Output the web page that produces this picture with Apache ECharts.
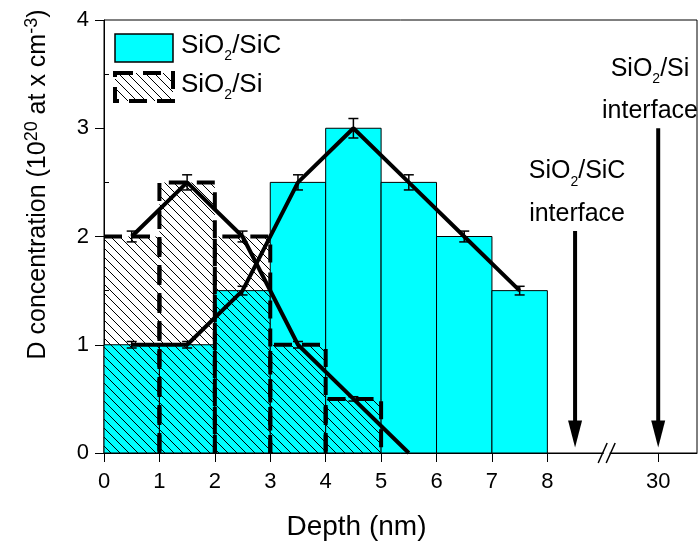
<!DOCTYPE html>
<html><head><meta charset="utf-8">
<script src="https://cdn.jsdelivr.net/npm/echarts@6/dist/echarts.min.js"></script>
<style>html,body{margin:0;padding:0;background:#fff}#c{width:699px;height:546px}</style>
</head><body><div id="c"></div>
<script>
// ---- data ----
const binStart = [0, 1, 2, 3, 4, 5, 6, 7];
const binEnd = [1, 2, 3, 4, 5, 6, 7, 8];
const sicBars = [1, 1, 1.5, 2.5, 3, 2.5, 2, 1.5];
const siBars = [2, 2.5, 2, 1, 0.5];
const sicProfileX = [0.5, 1.5, 2.5, 3.5, 4.5, 5.5, 6.5, 7.5];
const sicProfileY = [1, 1, 1.5, 2.5, 3, 2.5, 2, 1.5];
const sicErr = [0.03, 0.03, 0.04, 0.07, 0.09, 0.07, 0.05, 0.04];
const siProfileX = [0.5, 1.5, 2.5, 3.5, 4.5, 5.5];
const siProfileY = [2, 2.5, 2, 1, 0.5, 0];
const siErr = [0.05, 0.07, 0.05, 0.03, 0.02, 0];
const xTickValues = [0, 1, 2, 3, 4, 5, 6, 7, 8, 10];
const xTickLabels = ['0', '1', '2', '3', '4', '5', '6', '7', '8', '30'];
const yMinorTicks = [0.5, 1.5, 2.5, 3.5];
const interfaceX = [8.5, 10];
const interfaceTop = [2.05, 3.0];
const interfaceTip = [0.05, 0.05];
const interfaceMaterial = ['SiC', 'Si'];
const axisBreakX = [9.07];

const FONT = 'Liberation Sans, Arial, sans-serif';
const GRID = {left: 104, right: 2, top: 20, bottom: 93};
const W = 699;

function makeHatch() {
  const c = document.createElement('canvas');
  c.width = 9; c.height = 9;
  const g = c.getContext('2d');
  g.strokeStyle = '#000'; g.lineWidth = 1;
  g.beginPath();
  g.moveTo(-1, -1); g.lineTo(10, 10);
  g.moveTo(-1, 8); g.lineTo(1, 10);
  g.moveTo(8, -1); g.lineTo(10, 1);
  g.stroke();
  return c;
}
const hatch = {image: makeHatch(), repeat: 'repeat'};

function subRich(size) {
  return {
    n: {fontSize: size, fontFamily: FONT, color: '#000', lineHeight: 30, verticalAlign: 'top'},
    s: {fontSize: 14, fontFamily: FONT, color: '#000', lineHeight: 14, verticalAlign: 'top', padding: [16, 0, 0, 0]}
  };
}

const chart = echarts.init(document.getElementById('c'), null, {renderer: 'canvas'});

const option = {
  animation: false,
  backgroundColor: '#fff',
  grid: Object.assign({show: true, borderColor: '#000', borderWidth: 1, backgroundColor: 'transparent', containLabel: false}, GRID),
  xAxis: {
    type: 'value', min: 0, max: 10.7,
    axisLine: {show: true, onZero: false, lineStyle: {color: '#000', width: 1}},
    axisTick: {show: true, length: 9, customValues: xTickValues, lineStyle: {color: '#000', width: 1}},
    axisLabel: {show: true, customValues: xTickValues, formatter: v => xTickLabels[xTickValues.indexOf(v)],
      fontSize: 22, fontFamily: FONT, color: '#000', margin: 18},
    splitLine: {show: false}
  },
  yAxis: [{
    type: 'value', min: 0, max: 4, interval: 1,
    axisLine: {show: true, lineStyle: {color: '#000', width: 1}},
    axisTick: {show: true, length: 9, lineStyle: {color: '#000', width: 1}},
    axisLabel: {fontSize: 22, fontFamily: FONT, color: '#000', margin: 15},
    splitLine: {show: false}
  }, {
    type: 'value', min: 0, max: 4, position: 'left', offset: 0,
    axisLine: {show: false},
    axisTick: {show: true, inside: true, length: 5, customValues: yMinorTicks, lineStyle: {color: '#000', width: 1}},
    axisLabel: {show: false},
    splitLine: {show: false}
  }],
  graphic: [
    {type: 'rect', shape: {x: 115, y: 34, width: 58, height: 28}, style: {fill: '#00FFFF', stroke: '#000', lineWidth: 1.5}, z: 100},
    {type: 'text', x: 181, y: 33, z: 100, style: {text: '{n|SiO}{s|2}{n|/SiC}', rich: subRich(26), verticalAlign: 'top', align: 'left'}},
    {type: 'rect', shape: {x: 115, y: 73, width: 58, height: 28}, style: {fill: hatch, stroke: '#000', lineWidth: 4, lineDash: [18, 10]}, z: 100},
    {type: 'text', x: 181, y: 72, z: 100, style: {text: '{n|SiO}{s|2}{n|/Si}', rich: subRich(26), verticalAlign: 'top', align: 'left'}},
    {type: 'text', x: 356.5, y: 527, z: 100, style: {text: 'Depth (nm)', font: '28px ' + FONT, fill: '#000', align: 'center', verticalAlign: 'middle'}},
    {type: 'text', x: 38, y: 184.5, rotation: Math.PI / 2, z: 100, style: {
      text: '{n|D concentration (10}{p|20}{n| at x cm}{p|-3}{n|)}',
      rich: {
        n: {fontSize: 25, fontFamily: FONT, color: '#000', lineHeight: 30, verticalAlign: 'middle'},
        p: {fontSize: 18, fontFamily: FONT, color: '#000', lineHeight: 18, verticalAlign: 'top'}
      },
      align: 'center', verticalAlign: 'middle'}}
  ],
  series: [
    {
      type: 'custom', name: 'SiO2/SiC bars', z: 2,
      data: binStart.map((s, i) => [s, binEnd[i], sicBars[i]]),
      encode: {x: [0, 1], y: 2},
      renderItem: (params, api) => {
        const a = api.coord([api.value(0), api.value(2)]);
        const b = api.coord([api.value(1), 0]);
        return {type: 'rect', shape: {x: a[0], y: a[1], width: b[0] - a[0], height: b[1] - a[1]},
          style: {fill: '#00FFFF', stroke: '#000', lineWidth: 1}};
      }
    },
    {
      type: 'custom', name: 'SiO2/Si bars', z: 3,
      data: siBars.map((v, i) => [binStart[i], binEnd[i], v, i]),
      encode: {x: [0, 1], y: 2},
      renderItem: (params, api) => {
        const a = api.coord([api.value(0), api.value(2)]);
        const b = api.coord([api.value(1), 0]);
        const pts = api.value(3) === 0
          ? [[a[0], a[1]], [b[0], a[1]], [b[0], b[1]]]
          : [[a[0], b[1]], [a[0], a[1]], [b[0], a[1]], [b[0], b[1]]];
        return {type: 'group', children: [
          {type: 'rect', shape: {x: a[0], y: a[1], width: b[0] - a[0], height: b[1] - a[1]}, style: {fill: hatch}},
          {type: 'polyline', shape: {points: pts}, style: {fill: null, stroke: '#000', lineWidth: 4, lineDash: [18, 10]}}
        ]};
      }
    },
    {
      type: 'line', name: 'SiO2/SiC profile', z: 5, symbol: 'none',
      data: sicProfileX.map((x, i) => [x, sicProfileY[i]]),
      lineStyle: {color: '#000', width: 4}
    },
    {
      type: 'line', name: 'SiO2/Si profile', z: 5, symbol: 'none',
      data: siProfileX.map((x, i) => [x, siProfileY[i]]),
      lineStyle: {color: '#000', width: 4}
    },
    {
      type: 'custom', name: 'error bars', z: 6,
      data: sicProfileX.map((x, i) => [x, sicProfileY[i], sicErr[i]])
        .concat(siProfileX.map((x, i) => [x, siProfileY[i], siErr[i]])),
      encode: {x: 0, y: 1},
      renderItem: (params, api) => {
        const e = api.value(2);
        if (!(e > 0)) return null;
        const t = api.coord([api.value(0), api.value(1) + e]);
        const b = api.coord([api.value(0), api.value(1) - e]);
        const st = {stroke: '#000', lineWidth: 1.5};
        return {type: 'group', children: [
          {type: 'line', shape: {x1: t[0], y1: t[1], x2: b[0], y2: b[1]}, style: st},
          {type: 'line', shape: {x1: t[0] - 5, y1: t[1], x2: t[0] + 5, y2: t[1]}, style: st},
          {type: 'line', shape: {x1: b[0] - 5, y1: b[1], x2: b[0] + 5, y2: b[1]}, style: st}
        ]};
      }
    },
    {
      type: 'custom', name: 'interfaces', z: 7,
      data: interfaceX.map((x, i) => [x, interfaceTop[i], interfaceTip[i], i]),
      encode: {x: 0, y: 1},
      renderItem: (params, api) => {
        const t = api.coord([api.value(0), api.value(1)]);
        const p = api.coord([api.value(0), api.value(2)]);
        const mat = interfaceMaterial[api.value(3)];
        const tx = Math.min(t[0] + 2, W - GRID.right - 47);
        return {type: 'group', children: [
          {type: 'line', shape: {x1: t[0], y1: t[1], x2: p[0], y2: p[1] - 20}, style: {stroke: '#000', lineWidth: 4}},
          {type: 'polygon', shape: {points: [[p[0], p[1]], [p[0] - 7, p[1] - 27], [p[0] + 7, p[1] - 27]]}, style: {fill: '#000'}},
          {type: 'text', x: tx, y: t[1] - 72, style: {
            text: '{n|SiO}{s|2}{n|/' + mat + '}', rich: subRich(25), align: 'center', verticalAlign: 'top'}},
          {type: 'text', x: tx, y: t[1] - 17, style: {
            text: 'interface', font: '25px ' + FONT, fill: '#000', align: 'center', verticalAlign: 'middle'}}
        ]};
      }
    },
    {
      type: 'custom', name: 'axis break', z: 8,
      data: axisBreakX.map(x => [x, 0]),
      encode: {x: 0, y: 1},
      renderItem: (params, api) => {
        const p = api.coord([api.value(0), 0]);
        const st = {stroke: '#000', lineWidth: 1.5};
        return {type: 'group', children: [
          {type: 'rect', shape: {x: p[0] - 3, y: p[1] - 1.5, width: 6, height: 3}, style: {fill: '#fff'}},
          {type: 'line', shape: {x1: p[0] - 8.5, y1: p[1] + 10, x2: p[0] + 0.5, y2: p[1] - 10}, style: st},
          {type: 'line', shape: {x1: p[0] - 0.5, y1: p[1] + 10, x2: p[0] + 8.5, y2: p[1] - 10}, style: st}
        ]};
      }
    }
  ]
};
chart.setOption(option);
</script>
</body></html>
